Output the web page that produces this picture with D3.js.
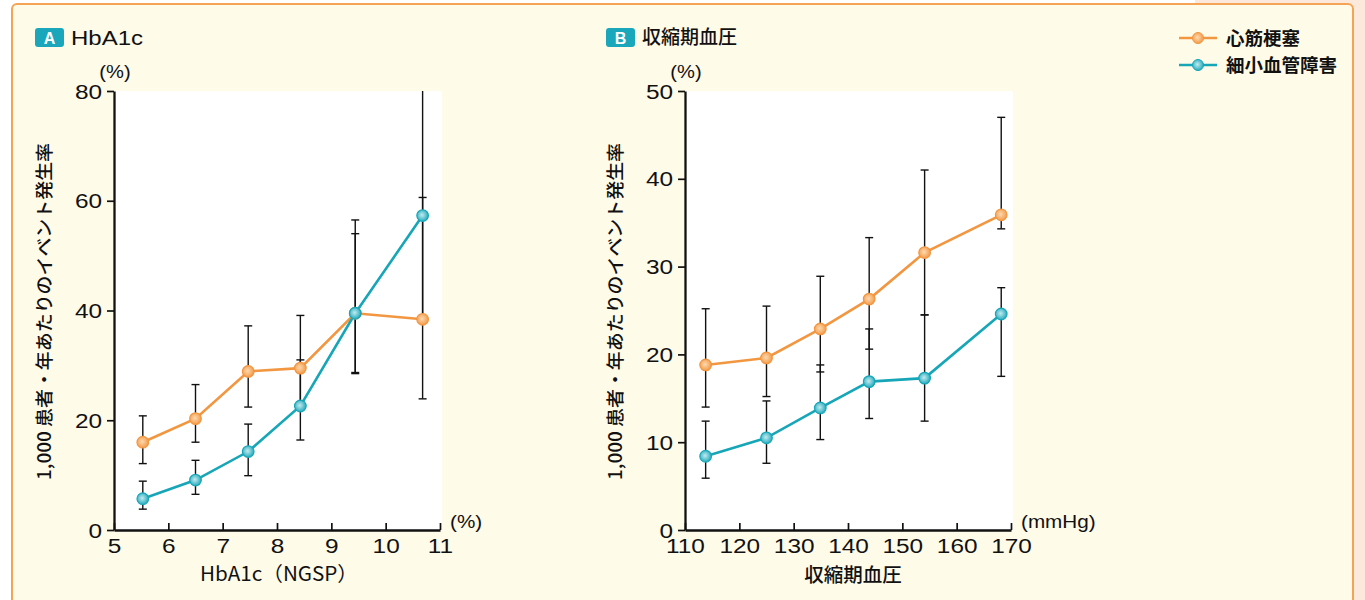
<!DOCTYPE html>
<html>
<head>
<meta charset="utf-8">
<script src="https://cdn.jsdelivr.net/npm/d3@7"></script>
<style>
  body { margin: 0; background: #ffffff; }
  svg { display: block; }
  .num { font-family: "Liberation Sans", Arial, sans-serif; fill: #111; }
  .jp { font-family: "Noto Sans CJK JP", sans-serif; fill: #111; }
</style>
</head>
<body>
<svg id="chart" width="1365" height="600"></svg>
<script>
// Panel A: HbA1c (NGSP)
var hbX    = [5.53, 6.5, 7.47, 8.43, 9.44, 10.68];
var hbMI   = [16.0, 20.3, 28.9, 29.5, 39.5, 38.4];
var hbMIlo = [12.1, 16.0, 22.4, 22.5, 28.5, 23.9];
var hbMIhi = [20.8, 26.5, 37.2, 39.1, 54.0, 85.0];
var hbMV   = [5.7, 9.1, 14.3, 22.6, 39.5, 57.3];
var hbMVlo = [3.8, 6.5, 9.9, 16.4, 28.7, 38.5];
var hbMVhi = [8.9, 12.7, 19.3, 31.0, 56.5, 60.6];
var hbXTicks = [5, 6, 7, 8, 9, 10, 11];
var hbYTicks = [0, 20, 40, 60, 80];

// Panel B: systolic blood pressure
var sbpX    = [113.8, 125.0, 134.9, 143.9, 154.1, 168.2];
var sbpMI   = [18.8, 19.6, 22.9, 26.3, 31.6, 35.9];
var sbpMIlo = [14.0, 15.2, 18.0, 20.6, 24.5, 34.3];
var sbpMIhi = [25.2, 25.5, 28.9, 33.3, 41.0, 47.0];
var sbpMV   = [8.4, 10.5, 13.9, 16.9, 17.3, 24.6];
var sbpMVlo = [5.9, 7.6, 10.3, 12.7, 12.4, 17.5];
var sbpMVhi = [12.4, 14.7, 18.8, 22.9, 24.5, 27.6];
var sbpXTicks = [110, 120, 130, 140, 150, 160, 170];
var sbpYTicks = [0, 10, 20, 30, 40, 50];

var seriesNames = ["心筋梗塞", "細小血管障害"];
var yLabel = "1,000 患者・年あたりのイベント発生率";

var svg = d3.select("#chart");
var orange = "#f29640", teal = "#16a6b8";
var wide = 1.25; // the numbers in the original are set in a wide face

// gradients for the markers
var defs = svg.append("defs");
function grad(id, c0, c1) {
  var g = defs.append("radialGradient").attr("id", id)
      .attr("cx", "45%").attr("cy", "45%").attr("r", "60%");
  g.append("stop").attr("offset", "0%").attr("stop-color", c0);
  g.append("stop").attr("offset", "100%").attr("stop-color", c1);
}
grad("gOrange", "#fdd9b0", orange);
grad("gTeal", "#c4eaef", teal);

// wide latin text, stretched round its anchor
function wideText(parent, x, y, size, anchor, str, k) {
  return parent.append("text").attr("class", "num")
      .attr("transform", "translate(" + x + "," + y + ") scale(" + (k || wide) + ",1)")
      .attr("font-size", size).attr("text-anchor", anchor).text(str);
}

// background + box
svg.append("rect").attr("x", 1195).attr("y", 0).attr("width", 170).attr("height", 600).attr("fill", "#fde9dc");
svg.append("rect").attr("x", 12).attr("y", 4).attr("width", 1341).attr("height", 620)
    .attr("rx", 5).attr("fill", "#fffbe9").attr("stroke", "#f5a455").attr("stroke-width", 2);

// legend
[orange, teal].forEach(function(c, i) {
  var y = 38 + i * 27;
  svg.append("line").attr("x1", 1179).attr("x2", 1217).attr("y1", y).attr("y2", y)
      .attr("stroke", c).attr("stroke-width", 2.5);
  svg.append("circle").attr("cx", 1198).attr("cy", y).attr("r", 5.5)
      .attr("fill", i == 0 ? "url(#gOrange)" : "url(#gTeal)").attr("stroke", c).attr("stroke-width", 1);
  svg.append("text").attr("class", "jp").attr("x", 1226).attr("y", y + 6.5)
      .attr("font-size", 18.5).attr("font-weight", 700).text(seriesNames[i]);
});

function panel(opt) {
  var x = d3.scaleLinear().domain(opt.xDomain).range([opt.left, opt.left + 326]);
  var y = d3.scaleLinear().domain(opt.yDomain).range([530, 91]);
  var g = svg.append("g");

  // badge + title
  g.append("rect").attr("x", opt.left - 79).attr("y", 28).attr("width", 29).attr("height", 19)
      .attr("rx", 3).attr("fill", "#1aa7bc");
  g.append("text").attr("x", opt.left - 64.5).attr("y", 43.5).attr("text-anchor", "middle")
      .attr("font-family", "Liberation Sans, Arial, sans-serif").attr("font-weight", 700)
      .attr("font-size", 16).attr("fill", "#fff").text(opt.badge);
  if (opt.titleClass == "num") {
    wideText(g, opt.left - 43, 45, 20.5, "start", opt.title, 1.17);
  } else {
    g.append("text").attr("class", "jp").attr("x", opt.left - 43).attr("y", 44)
        .attr("font-size", 19).attr("font-weight", 500).text(opt.title);
  }

  // plot area
  g.append("rect").attr("x", opt.left).attr("y", 91).attr("width", 328).attr("height", 439).attr("fill", "#fff");
  var clipId = "clip" + opt.badge;
  defs.append("clipPath").attr("id", clipId).append("rect")
      .attr("x", opt.left - 10).attr("y", 91).attr("width", 350).attr("height", 445);

  // axes
  var ya = g.append("g").attr("transform", "translate(" + opt.left + ",0)")
      .call(d3.axisLeft(y).tickValues(opt.yTicks).tickFormat(d3.format("d"))
        .tickSize(7).tickSizeOuter(0).tickPadding(5));
  var xa = g.append("g").attr("transform", "translate(0,530)")
      .call(d3.axisBottom(x).tickValues(opt.xTicks).tickFormat(d3.format("d"))
        .tickSize(-7).tickSizeOuter(0).tickPadding(4));
  [ya, xa].forEach(function(a) {
    a.select(".domain").attr("stroke", "#111").attr("stroke-width", 2.3);
    a.selectAll(".tick line").attr("stroke", "#111").attr("stroke-width", 1.7);
    a.selectAll(".tick text").attr("class", "num").attr("font-family", null)
        .attr("font-size", 19.5).attr("fill", "#111");
  });
  ya.selectAll(".tick text").attr("x", -12 / wide).attr("dy", "0.36em")
      .attr("transform", "scale(" + wide + ",1)");
  xa.selectAll(".tick text").attr("y", 4).attr("dy", "1em")
      .attr("transform", "scale(" + wide + ",1)");

  // unit labels
  wideText(g, opt.left + 1, 78, 17.5, "middle", "(%)", 1.15);
  wideText(g, opt.left + 336, 528, 18, "start", opt.xUnit, 1.15);

  // axis titles
  if (opt.xTitleClass == "num") {
    g.append("text").attr("class", "jp").attr("x", opt.left + 86).attr("y", 581)
        .attr("font-size", 20).attr("textLength", 158).attr("lengthAdjust", "spacingAndGlyphs")
        .text(opt.xTitle);
  } else {
    g.append("text").attr("class", "jp").attr("x", opt.left + 168).attr("y", 582).attr("text-anchor", "middle")
        .attr("font-size", 19.5).attr("font-weight", 500).text(opt.xTitle);
  }
  g.append("text").attr("class", "jp").attr("transform", "translate(" + (opt.left - 63) + ",480) rotate(-90)")
      .attr("font-size", 18).attr("font-weight", 500)
      .attr("textLength", 337).attr("lengthAdjust", "spacingAndGlyphs").text(yLabel);

  var plot = g.append("g").attr("clip-path", "url(#" + clipId + ")");
  var series = [
    { v: opt.mi, lo: opt.miLo, hi: opt.miHi, color: orange, fill: "url(#gOrange)" },
    { v: opt.mv, lo: opt.mvLo, hi: opt.mvHi, color: teal, fill: "url(#gTeal)" }
  ];

  // error bars
  series.forEach(function(s) {
    var eb = plot.selectAll(null).data(opt.xs).enter().append("g");
    eb.append("line")
        .attr("x1", function(d) { return x(d); }).attr("x2", function(d) { return x(d); })
        .attr("y1", function(d, i) { return y(s.lo[i]); }).attr("y2", function(d, i) { return y(s.hi[i]); })
        .attr("stroke", "#111").attr("stroke-width", 1.4);
    [s.lo, s.hi].forEach(function(arr) {
      eb.append("line")
          .attr("x1", function(d) { return x(d) - 4; }).attr("x2", function(d) { return x(d) + 4; })
          .attr("y1", function(d, i) { return y(arr[i]); }).attr("y2", function(d, i) { return y(arr[i]); })
          .attr("stroke", "#111").attr("stroke-width", 1.4);
    });
  });

  // lines and markers
  series.forEach(function(s) {
    var line = d3.line().x(function(d) { return x(d); }).y(function(d, i) { return y(s.v[i]); });
    plot.append("path").datum(opt.xs).attr("d", line)
        .attr("fill", "none").attr("stroke", s.color).attr("stroke-width", 2.6);
  });
  series.forEach(function(s) {
    plot.selectAll(null).data(opt.xs).enter().append("circle")
        .attr("cx", function(d) { return x(d); })
        .attr("cy", function(d, i) { return y(s.v[i]); })
        .attr("r", 5.8).attr("fill", s.fill).attr("stroke", s.color).attr("stroke-width", 1.2);
  });
}

panel({
  badge: "A", title: "HbA1c", titleClass: "num", left: 114,
  xDomain: [5, 11], yDomain: [0, 80], xTicks: hbXTicks, yTicks: hbYTicks,
  xUnit: "(%)", xTitle: "HbA1c（NGSP）", xTitleClass: "num",
  xs: hbX, mi: hbMI, miLo: hbMIlo, miHi: hbMIhi, mv: hbMV, mvLo: hbMVlo, mvHi: hbMVhi
});
panel({
  badge: "B", title: "収縮期血圧", titleClass: "jp", left: 685,
  xDomain: [110, 170], yDomain: [0, 50], xTicks: sbpXTicks, yTicks: sbpYTicks,
  xUnit: "(mmHg)", xTitle: "収縮期血圧", xTitleClass: "jp",
  xs: sbpX, mi: sbpMI, miLo: sbpMIlo, miHi: sbpMIhi, mv: sbpMV, mvLo: sbpMVlo, mvHi: sbpMVhi
});
</script>
</body>
</html>
